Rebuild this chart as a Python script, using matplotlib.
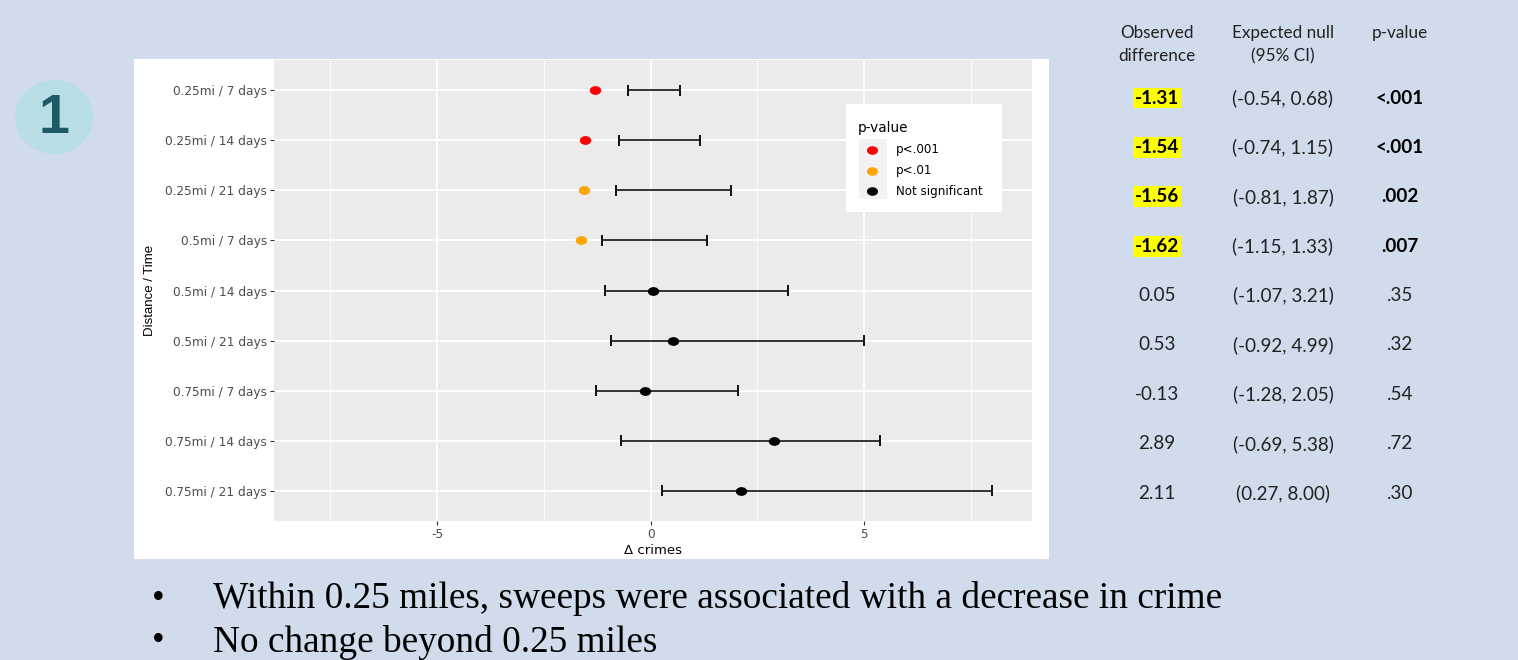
import matplotlib
matplotlib.use("Agg")
import matplotlib.pyplot as plt
from matplotlib.patches import Rectangle, Ellipse
from matplotlib.path import Path
from matplotlib.transforms import Affine2D

plt.rcParams["axes.unicode_minus"] = False

# ---------------- data ----------------
categories = ["0.25mi / 7 days", "0.25mi / 14 days", "0.25mi / 21 days",
              "0.5mi / 7 days", "0.5mi / 14 days", "0.5mi / 21 days",
              "0.75mi / 7 days", "0.75mi / 14 days", "0.75mi / 21 days"]
observed = [-1.31, -1.54, -1.56, -1.62, 0.05, 0.53, -0.13, 2.89, 2.11]
ci_low = [-0.54, -0.74, -0.81, -1.15, -1.07, -0.92, -1.28, -0.69, 0.27]
ci_high = [0.68, 1.15, 1.87, 1.33, 3.21, 4.99, 2.05, 5.38, 8.00]
significance = ["p<.001", "p<.001", "p<.01", "p<.01", "Not significant",
                "Not significant", "Not significant", "Not significant",
                "Not significant"]
legend_labels = ["p<.001", "p<.01", "Not significant"]
legend_colors = ["#ff0000", "#ffa500", "#000000"]
observed_text = ["-1.31", "-1.54", "-1.56", "-1.62", "0.05", "0.53", "-0.13", "2.89", "2.11"]
ci_text = ["(-0.54, 0.68)", "(-0.74, 1.15)", "(-0.81, 1.87)", "(-1.15, 1.33)",
           "(-1.07, 3.21)", "(-0.92, 4.99)", "(-1.28, 2.05)", "(-0.69, 5.38)",
           "(0.27, 8.00)"]
p_text = ["<.001", "<.001", ".002", ".007", ".35", ".32", ".54", ".72", ".30"]
highlighted = [True, True, True, True, False, False, False, False, False]
x_ticks = [-5, 0, 5]
x_minor = [-7.5, -2.5, 2.5, 7.5]
bullets = ["Within 0.25 miles, sweeps were associated with a decrease in crime",
           "No change beyond 0.25 miles"]

# ---------------- layout ----------------
W, H = 1518, 660
BG = "#d0dbec"
fig = plt.figure(figsize=(W / 100, H / 100), dpi=100, facecolor=BG)

# background overlay in pixel coordinates
bg = fig.add_axes([0, 0, 1, 1], zorder=0)
bg.set_xlim(0, W)
bg.set_ylim(H, 0)
bg.axis("off")
bg.add_patch(Rectangle((134, 59), 1049 - 134, 559 - 59, facecolor="white", edgecolor="none"))

# number circle
bg.add_patch(Ellipse((54, 117), 78, 74, facecolor="#b8dee6", edgecolor="none"))
bg.text(54, 119, "1", ha="center", va="center", fontsize=40, fontweight="bold",
        color="#1f5866", family="Liberation Sans")

# chart axes
L, R, T, B = 274, 1032, 60, 521
ax = fig.add_axes([L / W, 1 - B / H, (R - L) / W, (B - T) / H], zorder=1)
ax.set_facecolor("#ebebeb")
for s in ax.spines.values():
    s.set_visible(False)
ypos = list(range(1, len(categories) + 1))
ax.set_xlim(-8.82, 8.93)
ax.set_ylim(9.6, 0.4)
ax.set_xticks(x_ticks)
ax.set_xticks(x_minor, minor=True)
ax.set_yticks(ypos)
ax.set_yticklabels(categories)
ax.grid(True, which="major", color="white", lw=1.3)
ax.grid(True, which="minor", axis="x", color="white", lw=0.6)
ax.set_axisbelow(True)
ax.tick_params(axis="both", which="major", length=3, width=0.8, color="#333333",
               labelsize=8.7, labelcolor="#4d4d4d", pad=2)
ax.tick_params(axis="x", which="minor", length=0)
for lab in ax.get_xticklabels() + ax.get_yticklabels():
    lab.set_family("DejaVu Sans")

# error bars (expected null CI)
cap = 0.11
ax.hlines(ypos, ci_low, ci_high, color="#333333", lw=1.4, zorder=3)
ax.vlines(ci_low, [y - cap for y in ypos], [y + cap for y in ypos], color="#111111", lw=1.4, zorder=3)
ax.vlines(ci_high, [y - cap for y in ypos], [y + cap for y in ypos], color="#111111", lw=1.4, zorder=3)

# points (slightly wide ellipse, as in the stretched original)
ell = Path.unit_circle().transformed(Affine2D().scale(1.3, 1.0))
cmap = dict(zip(legend_labels, legend_colors))
for x, y, s in zip(observed, ypos, significance):
    ax.plot([x], [y], marker=ell, markersize=8.2, color=cmap[s], markeredgewidth=0,
            linestyle="none", zorder=4)

ax.set_xlabel("\u0394 crimes", fontsize=9.5, family="DejaVu Sans", color="black", labelpad=2)
fig.text(150 / W, 1 - 290 / H, "Distance / Time", rotation=90, ha="center", va="center",
         fontsize=9.5, family="Liberation Sans", color="black")

# legend (pixel overlay)
lg = fig.add_axes([0, 0, 1, 1], zorder=2)
lg.set_xlim(0, W)
lg.set_ylim(H, 0)
lg.axis("off")
lg.add_patch(Rectangle((846, 104), 1002 - 846, 212 - 104, facecolor="white", edgecolor="none"))
lg.text(858, 128, "p-value", fontsize=9.8, family="DejaVu Sans", va="center", ha="left", color="black")
lg.add_patch(Rectangle((859, 139), 28, 60, facecolor="#f2f2f2", edgecolor="none"))
for i, (lab, col) in enumerate(zip(legend_labels, legend_colors)):
    yy = 150 + i * 20.5
    lg.plot([872], [yy], marker=ell, markersize=8.0, color=col, markeredgewidth=0, linestyle="none")
    lg.text(896, yy, lab, fontsize=8.6, family="DejaVu Sans", va="center", ha="left", color="black")

# table
col_x = [1157, 1283, 1400]
tf = "Lato"
hdr_col = "#222222"
hs = 12.3
bg.text(col_x[0], 33, "Observed", ha="center", va="center", fontsize=hs, family=tf, color=hdr_col)
bg.text(col_x[0], 56, "difference", ha="center", va="center", fontsize=hs, family=tf, color=hdr_col)
bg.text(col_x[1], 33, "Expected null", ha="center", va="center", fontsize=hs, family=tf, color=hdr_col)
bg.text(col_x[1], 56, "(95% CI)", ha="center", va="center", fontsize=hs, family=tf, color=hdr_col)
bg.text(col_x[2], 33, "p-value", ha="center", va="center", fontsize=hs, family=tf, color=hdr_col)
vs = 13.6
for i in range(len(categories)):
    yy = 98 + i * 49.4
    if highlighted[i]:
        bg.text(col_x[0], yy, observed_text[i], ha="center", va="center", fontsize=vs, family=tf,
                fontweight="bold", color="black",
                bbox=dict(boxstyle="square,pad=0.1", fc="#ffff00", ec="none"))
        bg.text(col_x[2], yy, p_text[i], ha="center", va="center", fontsize=vs, family=tf,
                fontweight="bold", color="black")
    else:
        bg.text(col_x[0], yy, observed_text[i], ha="center", va="center", fontsize=vs, family=tf,
                color="#222222")
        bg.text(col_x[2], yy, p_text[i], ha="center", va="center", fontsize=vs, family=tf,
                color="#222222")
    bg.text(col_x[1], yy, ci_text[i], ha="center", va="center", fontsize=vs, family=tf, color="#222222")

# bullets
for i, b in enumerate(bullets):
    yy = 599 + i * 43
    bg.text(158, yy, "\u2022", ha="center", va="center", fontsize=26, family="Liberation Serif", color="black")
    bg.text(213, yy, b, ha="left", va="center", fontsize=26.8, family="Liberation Serif", color="black")

fig.savefig("out.png", dpi=100, facecolor=BG)
